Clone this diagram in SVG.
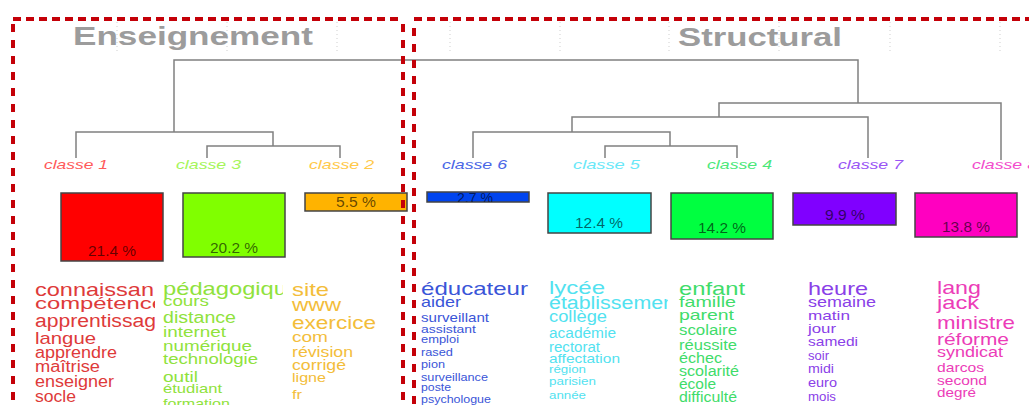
<svg xmlns="http://www.w3.org/2000/svg" width="1029" height="405" viewBox="0 0 1029 405">
<style>
text{font-family:"Liberation Sans",Arial,sans-serif}
.ttl{font-size:26px;font-weight:bold;fill:#9c9c9c}
.grid{stroke:#cfcfcf;stroke-width:1;stroke-dasharray:1 3;fill:none}
.dendro{stroke:#808080;stroke-width:1.5;fill:none}
.lbl{font-size:13px;font-style:italic}
.box{stroke:#444;stroke-width:1.5}
.pct{font-size:14px;fill:#000;fill-opacity:0.62;text-anchor:middle}
.fr{stroke:#c40008;fill:none;stroke-width:4}
.h{stroke-dasharray:8 5}
.v{stroke-dasharray:8 8}
.c1{fill:#de3a3a}.c3{fill:#8fe23c}.c2{fill:#f3bd3a}.c6{fill:#3a55d8}
.c5{fill:#52e2f0}.c4{fill:#3fdc6a}.c7{fill:#8a40e8}.c8{fill:#ec3cb8}
</style>
<defs>
<clipPath id="clip1"><rect x="0" y="270" width="155" height="140"/></clipPath>
<clipPath id="clip3"><rect x="160" y="270" width="123" height="140"/></clipPath>
<clipPath id="clip5"><rect x="540" y="270" width="128" height="140"/></clipPath>
<clipPath id="clipB"><rect x="427" y="190" width="102" height="12"/></clipPath>
</defs>
<rect width="1029" height="405" fill="#fff"/>

<g id="grid">
<path class="grid" d="M117,22V54M227,22V54M337,22V54M450,22V54M560,22V54M669,22V54M779,22V54M890,22V54M1000,22V54"/>
</g>

<g id="titles">
<text class="ttl" x="73" y="45" textLength="240" lengthAdjust="spacingAndGlyphs">Enseignement</text>
<text class="ttl" x="678" y="46" textLength="164" lengthAdjust="spacingAndGlyphs">Structural</text>
</g>

<g id="connectors">
<path class="dendro" d="M174,132V60H858V103"/>
<path class="dendro" d="M76,158V132H273V146"/>
<path class="dendro" d="M207,158V146H340V158"/>
<path class="dendro" d="M719,117V103H1001V160"/>
<path class="dendro" d="M572,132V117H868V158"/>
<path class="dendro" d="M473,158V132H670V146"/>
<path class="dendro" d="M605,158V146H737V158"/>
</g>

<g id="classe1">
<text class="lbl" x="44" y="169" fill="#ff5a5a" textLength="64" lengthAdjust="spacingAndGlyphs">classe 1</text>
<rect class="box" x="61" y="193" width="102" height="68" fill="#ff0000"/>
<text class="pct" x="112" y="256" textLength="48" lengthAdjust="spacingAndGlyphs">21.4 %</text>
<g class="c1" clip-path="url(#clip1)">
<text x="35" y="296" font-size="19" textLength="119" lengthAdjust="spacingAndGlyphs">connaissan</text>
<text x="35" y="309" font-size="17" textLength="130" lengthAdjust="spacingAndGlyphs">compétence</text>
<text x="35" y="327" font-size="18" textLength="121" lengthAdjust="spacingAndGlyphs">apprentissag</text>
<text x="35" y="344" font-size="17" textLength="61" lengthAdjust="spacingAndGlyphs">langue</text>
<text x="35" y="358" font-size="16" textLength="82" lengthAdjust="spacingAndGlyphs">apprendre</text>
<text x="35" y="372" font-size="16" textLength="65" lengthAdjust="spacingAndGlyphs">maîtrise</text>
<text x="35" y="387" font-size="16" textLength="79" lengthAdjust="spacingAndGlyphs">enseigner</text>
<text x="35" y="402" font-size="16" textLength="41" lengthAdjust="spacingAndGlyphs">socle</text>
</g>
</g>

<g id="classe3">
<text class="lbl" x="176" y="169" fill="#a6f55a" textLength="65" lengthAdjust="spacingAndGlyphs">classe 3</text>
<rect class="box" x="183" y="193" width="102" height="64" fill="#80ff00"/>
<text class="pct" x="234" y="253" textLength="48" lengthAdjust="spacingAndGlyphs">20.2 %</text>
<g class="c3" clip-path="url(#clip3)">
<text x="163" y="295" font-size="19" textLength="124" lengthAdjust="spacingAndGlyphs">pédagogiqu</text>
<text x="163" y="306" font-size="14" textLength="46" lengthAdjust="spacingAndGlyphs">cours</text>
<text x="163" y="323" font-size="16" textLength="73" lengthAdjust="spacingAndGlyphs">distance</text>
<text x="163" y="337" font-size="15" textLength="63" lengthAdjust="spacingAndGlyphs">internet</text>
<text x="163" y="351" font-size="15" textLength="89" lengthAdjust="spacingAndGlyphs">numérique</text>
<text x="163" y="364" font-size="15" textLength="95" lengthAdjust="spacingAndGlyphs">technologie</text>
<text x="163" y="382" font-size="15" textLength="35" lengthAdjust="spacingAndGlyphs">outil</text>
<text x="163" y="393" font-size="13" textLength="59" lengthAdjust="spacingAndGlyphs">étudiant</text>
<text x="163" y="408" font-size="13" textLength="67" lengthAdjust="spacingAndGlyphs">formation</text>
</g>
</g>

<g id="classe2">
<text class="lbl" x="309" y="169" fill="#ffc94a" textLength="65" lengthAdjust="spacingAndGlyphs">classe 2</text>
<rect class="box" x="305" y="193" width="102" height="18" fill="#ffb300"/>
<text class="pct" x="356" y="207" textLength="40" lengthAdjust="spacingAndGlyphs">5.5 %</text>
<g class="c2">
<text x="292" y="296" font-size="19" textLength="37" lengthAdjust="spacingAndGlyphs">site</text>
<text x="292" y="311" font-size="18" textLength="49" lengthAdjust="spacingAndGlyphs">www</text>
<text x="292" y="329" font-size="18" textLength="84" lengthAdjust="spacingAndGlyphs">exercice</text>
<text x="292" y="342" font-size="15" textLength="36" lengthAdjust="spacingAndGlyphs">com</text>
<text x="292" y="357" font-size="15" textLength="61" lengthAdjust="spacingAndGlyphs">révision</text>
<text x="292" y="370" font-size="15" textLength="54" lengthAdjust="spacingAndGlyphs">corrigé</text>
<text x="292" y="382" font-size="13" textLength="34" lengthAdjust="spacingAndGlyphs">ligne</text>
<text x="292" y="399" font-size="13" textLength="10" lengthAdjust="spacingAndGlyphs">fr</text>
</g>
</g>

<g id="classe6">
<text class="lbl" x="442" y="169" fill="#4a66e6" textLength="65" lengthAdjust="spacingAndGlyphs">classe 6</text>
<rect class="box" x="427" y="192" width="102" height="10" fill="#0044ee"/>
<text class="pct" x="475" y="203" clip-path="url(#clipB)" textLength="36" lengthAdjust="spacingAndGlyphs">2.7 %</text>
<g class="c6">
<text x="421" y="295" font-size="19" textLength="107" lengthAdjust="spacingAndGlyphs">éducateur</text>
<text x="421" y="307" font-size="15" textLength="40" lengthAdjust="spacingAndGlyphs">aider</text>
<text x="421" y="322" font-size="13" textLength="68" lengthAdjust="spacingAndGlyphs">surveillant</text>
<text x="421" y="333" font-size="11" textLength="55" lengthAdjust="spacingAndGlyphs">assistant</text>
<text x="421" y="343" font-size="11" textLength="38" lengthAdjust="spacingAndGlyphs">emploi</text>
<text x="421" y="356" font-size="11" textLength="32" lengthAdjust="spacingAndGlyphs">rased</text>
<text x="421" y="368" font-size="11" textLength="24" lengthAdjust="spacingAndGlyphs">pion</text>
<text x="421" y="381" font-size="11" textLength="67" lengthAdjust="spacingAndGlyphs">surveillance</text>
<text x="421" y="391" font-size="11" textLength="30" lengthAdjust="spacingAndGlyphs">poste</text>
<text x="421" y="403" font-size="11" textLength="70" lengthAdjust="spacingAndGlyphs">psychologue</text>
</g>
</g>

<g id="classe5">
<text class="lbl" x="573" y="169" fill="#6ae8f8" textLength="67" lengthAdjust="spacingAndGlyphs">classe 5</text>
<rect class="box" x="548" y="193" width="103" height="40" fill="#00ffff"/>
<text class="pct" x="599" y="228" textLength="48" lengthAdjust="spacingAndGlyphs">12.4 %</text>
<g class="c5" clip-path="url(#clip5)">
<text x="549" y="294" font-size="19" textLength="56" lengthAdjust="spacingAndGlyphs">lycée</text>
<text x="549" y="309" font-size="18" textLength="126" lengthAdjust="spacingAndGlyphs">établissemen</text>
<text x="549" y="322" font-size="17" textLength="58" lengthAdjust="spacingAndGlyphs">collège</text>
<text x="549" y="338" font-size="14" textLength="67" lengthAdjust="spacingAndGlyphs">académie</text>
<text x="549" y="352" font-size="14" textLength="51" lengthAdjust="spacingAndGlyphs">rectorat</text>
<text x="549" y="363" font-size="13" textLength="71" lengthAdjust="spacingAndGlyphs">affectation</text>
<text x="549" y="373" font-size="11" textLength="37" lengthAdjust="spacingAndGlyphs">région</text>
<text x="549" y="385" font-size="11" textLength="47" lengthAdjust="spacingAndGlyphs">parisien</text>
<text x="549" y="399" font-size="11" textLength="37" lengthAdjust="spacingAndGlyphs">année</text>
</g>
</g>

<g id="classe4">
<text class="lbl" x="707" y="169" fill="#4ce87a" textLength="65" lengthAdjust="spacingAndGlyphs">classe 4</text>
<rect class="box" x="671" y="193" width="102" height="46" fill="#00ff40"/>
<text class="pct" x="722" y="233" textLength="48" lengthAdjust="spacingAndGlyphs">14.2 %</text>
<g class="c4">
<text x="679" y="295" font-size="19" textLength="66" lengthAdjust="spacingAndGlyphs">enfant</text>
<text x="679" y="307" font-size="15" textLength="57" lengthAdjust="spacingAndGlyphs">famille</text>
<text x="679" y="320" font-size="15" textLength="55" lengthAdjust="spacingAndGlyphs">parent</text>
<text x="679" y="335" font-size="14" textLength="58" lengthAdjust="spacingAndGlyphs">scolaire</text>
<text x="679" y="350" font-size="14" textLength="58" lengthAdjust="spacingAndGlyphs">réussite</text>
<text x="679" y="363" font-size="14" textLength="43" lengthAdjust="spacingAndGlyphs">échec</text>
<text x="679" y="376" font-size="14" textLength="60" lengthAdjust="spacingAndGlyphs">scolarité</text>
<text x="679" y="389" font-size="14" textLength="37" lengthAdjust="spacingAndGlyphs">école</text>
<text x="679" y="402" font-size="14" textLength="58" lengthAdjust="spacingAndGlyphs">difficulté</text>
</g>
</g>

<g id="classe7">
<text class="lbl" x="838" y="169" fill="#9a55f5" textLength="65" lengthAdjust="spacingAndGlyphs">classe 7</text>
<rect class="box" x="793" y="193" width="103" height="32" fill="#8000ff"/>
<text class="pct" x="845" y="220" textLength="40" lengthAdjust="spacingAndGlyphs">9.9 %</text>
<g class="c7">
<text x="808" y="295" font-size="19" textLength="60" lengthAdjust="spacingAndGlyphs">heure</text>
<text x="808" y="307" font-size="14" textLength="68" lengthAdjust="spacingAndGlyphs">semaine</text>
<text x="808" y="320" font-size="13" textLength="42" lengthAdjust="spacingAndGlyphs">matin</text>
<text x="808" y="333" font-size="13" textLength="28" lengthAdjust="spacingAndGlyphs">jour</text>
<text x="808" y="346" font-size="13" textLength="50" lengthAdjust="spacingAndGlyphs">samedi</text>
<text x="808" y="360" font-size="13" textLength="21" lengthAdjust="spacingAndGlyphs">soir</text>
<text x="808" y="373" font-size="13" textLength="26" lengthAdjust="spacingAndGlyphs">midi</text>
<text x="808" y="387" font-size="13" textLength="29" lengthAdjust="spacingAndGlyphs">euro</text>
<text x="808" y="401" font-size="13" textLength="28" lengthAdjust="spacingAndGlyphs">mois</text>
</g>
</g>

<g id="classe8">
<text class="lbl" x="972" y="169" fill="#f24ccc" textLength="65" lengthAdjust="spacingAndGlyphs">classe 8</text>
<rect class="box" x="915" y="193" width="102" height="44" fill="#ff00c0"/>
<text class="pct" x="966" y="232" textLength="48" lengthAdjust="spacingAndGlyphs">13.8 %</text>
<g class="c8">
<text x="937" y="294" font-size="19" textLength="44" lengthAdjust="spacingAndGlyphs">lang</text>
<text x="937" y="309" font-size="19" textLength="42" lengthAdjust="spacingAndGlyphs">jack</text>
<text x="937" y="329" font-size="19" textLength="78" lengthAdjust="spacingAndGlyphs">ministre</text>
<text x="937" y="345" font-size="17" textLength="72" lengthAdjust="spacingAndGlyphs">réforme</text>
<text x="937" y="357" font-size="14" textLength="66" lengthAdjust="spacingAndGlyphs">syndicat</text>
<text x="937" y="372" font-size="13" textLength="47" lengthAdjust="spacingAndGlyphs">darcos</text>
<text x="937" y="385" font-size="13" textLength="50" lengthAdjust="spacingAndGlyphs">second</text>
<text x="937" y="397" font-size="13" textLength="39" lengthAdjust="spacingAndGlyphs">degré</text>
</g>
</g>

<g id="frames">
<path class="fr h" d="M13,19H403"/>
<path class="fr h" d="M414,19H1029"/>
<path class="fr v" d="M13,24V405"/>
<path class="fr v" d="M403,24V405"/>
<path class="fr v" d="M414,28V405"/>
</g>
</svg>
